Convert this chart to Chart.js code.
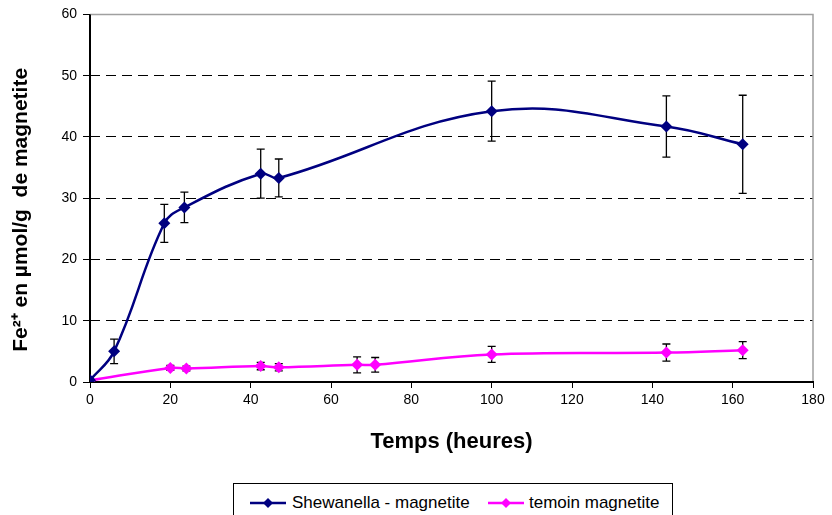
<!DOCTYPE html>
<html>
<head>
<meta charset="utf-8">
<script src="https://cdn.jsdelivr.net/npm/chart.js@4/dist/chart.umd.min.js"></script>
<style>
  html, body { margin: 0; padding: 0; background: #fff; }
  #wrap { position: relative; width: 832px; height: 515px; overflow: hidden; }
  canvas { position: absolute; left: 0; top: 0; }
  #legend {
    position: absolute; left: 233px; top: 483px; width: 440px; height: 40px;
    border: 1px solid #000; box-sizing: border-box; background: #fff;
    font-family: "Liberation Sans", Arial, sans-serif; font-size: 17px; color: #000;
  }
  .item { position: absolute; top: 9px; height: 20px; line-height: 20px; white-space: pre; }
  .sym { position: absolute; top: 0; width: 36px; height: 20px; }
</style>
</head>
<body>
<div id="wrap">
  <canvas id="c" width="832" height="515"></canvas>
  <div id="legend"></div>
</div>
<script>
// ---- data ----
const seriesNames = ['Shewanella - magnetite', 'temoin magnetite'];
const shewTimes = [0, 6, 18.5, 23.5, 42.5, 47, 100, 143.5, 162.5];
const shewValues = [0.3, 5.0, 25.9, 28.5, 34.0, 33.3, 44.2, 41.7, 38.8];
const shewErrors = [0, 2.0, 3.1, 2.5, 4.0, 3.1, 4.9, 5.0, 8.0];
const temTimes = [0, 20, 24, 42.5, 47, 66.5, 71, 100, 143.5, 162.5];
const temValues = [0.25, 2.3, 2.2, 2.6, 2.4, 2.8, 2.8, 4.5, 4.8, 5.2];
const temErrors = [0, 0.4, 0.4, 0.6, 0.6, 1.3, 1.2, 1.3, 1.4, 1.4];
const xTicks = [0, 20, 40, 60, 80, 100, 120, 140, 160, 180];
const yTicks = [0, 10, 20, 30, 40, 50, 60];
const xTitle = 'Temps (heures)';
const yTitle = 'Fe\u00B2\u207A en \u00B5mol/g  de magnetite\u00A0\u00A0\u00A0\u00A0';
const colors = ['#000080', '#FF00FF'];

const FONT = '"Liberation Sans", Arial, sans-serif';

const toPts = (xs, ys) => xs.map((x, i) => ({x: x, y: ys[i]}));

const errorBars = {
  id: 'errorBars',
  beforeDatasetsDraw(chart) {
    const ctx = chart.ctx;
    const xs = chart.scales.x, ys = chart.scales.y;
    const sets = [[shewTimes, shewValues, shewErrors], [temTimes, temValues, temErrors]];
    ctx.save();
    ctx.strokeStyle = '#000';
    ctx.lineWidth = 1.3;
    sets.forEach(([t, v, e]) => {
      t.forEach((tx, i) => {
        if (!e[i]) return;
        const px = xs.getPixelForValue(tx);
        const top = ys.getPixelForValue(v[i] + e[i]);
        const bot = ys.getPixelForValue(v[i] - e[i]);
        ctx.beginPath();
        ctx.moveTo(px, top); ctx.lineTo(px, bot);
        ctx.moveTo(px - 4, top); ctx.lineTo(px + 4, top);
        ctx.moveTo(px - 4, bot); ctx.lineTo(px + 4, bot);
        ctx.stroke();
      });
    });
    ctx.restore();
  }
};

// plot-area frame: grey top/right, black left/bottom axes
const frame = {
  id: 'frame',
  beforeDatasetsDraw(chart) {
    const {ctx, chartArea: a} = chart;
    ctx.save();
    ctx.setLineDash([]);
    ctx.strokeStyle = '#a0a0a0';
    ctx.lineWidth = 1.5;
    ctx.beginPath();
    ctx.moveTo(a.left, a.top); ctx.lineTo(a.right, a.top); ctx.lineTo(a.right, a.bottom);
    ctx.stroke();
    ctx.strokeStyle = '#000';
    ctx.lineWidth = 2;
    ctx.beginPath();
    ctx.moveTo(a.left, a.top); ctx.lineTo(a.left, a.bottom); ctx.lineTo(a.right + 1, a.bottom);
    ctx.stroke();
    ctx.restore();
  }
};

const chart = new Chart(document.getElementById('c'), {
  type: 'line',
  data: {
    datasets: [
      {
        label: seriesNames[0],
        data: toPts(shewTimes, shewValues),
        borderColor: colors[0], backgroundColor: colors[0],
        borderWidth: 2.5, tension: 0.4,
        pointStyle: 'rectRot', pointRadius: 6, pointBorderWidth: 0,
        pointBackgroundColor: colors[0]
      },
      {
        label: seriesNames[1],
        data: toPts(temTimes, temValues),
        borderColor: colors[1], backgroundColor: colors[1],
        borderWidth: 2.5, tension: 0.4,
        pointStyle: 'rectRot', pointRadius: 6, pointBorderWidth: 0,
        pointBackgroundColor: colors[1]
      }
    ]
  },
  options: {
    responsive: false,
    animation: false,
    events: [],
    layout: { padding: { left: 0, right: 19, top: 11, bottom: 0 } },
    plugins: { legend: { display: false }, tooltip: { enabled: false } },
    scales: {
      x: {
        type: 'linear', min: 0, max: 180,
        afterBuildTicks: s => { s.ticks = xTicks.map(v => ({value: v})); },
        afterFit: s => { s.height = 133; },
        ticks: { color: '#000', font: { family: FONT, size: 14 }, padding: 4, maxRotation: 0 },
        grid: { drawOnChartArea: false, drawTicks: true, tickLength: 6, tickColor: '#000', tickWidth: 1 },
        border: { display: false },
        title: { display: true, text: xTitle, color: '#000',
                 font: { family: FONT, size: 22, weight: 'bold' }, padding: { top: 0, bottom: 60 } }
      },
      y: {
        min: 0, max: 60,
        afterBuildTicks: s => { s.ticks = yTicks.map(v => ({value: v})); },
        afterFit: s => { s.width = 90; },
        ticks: { color: '#000', font: { family: FONT, size: 14 }, padding: 6 },
        grid: {
          color: c => (c.tick && c.tick.value === 60) ? '#777' : '#000',
          lineWidth: 1, tickBorderDash: [], tickLength: 7, tickColor: '#000', tickWidth: 1
        },
        border: { display: false, dash: [10, 6] },
        title: { display: true, text: yTitle, color: '#000',
                 font: { family: FONT, size: 21, weight: 'bold' }, padding: { top: 9, bottom: 0 } }
      }
    }
  },
  plugins: [frame, errorBars]
});

// ---- legend (HTML text) ----
(function buildLegend() {
  const lg = document.getElementById('legend');
  const lefts = [[16, 58], [254, 295]];
  seriesNames.forEach((name, i) => {
    const sym = document.createElement('canvas');
    sym.className = 'sym'; sym.width = 36; sym.height = 20;
    sym.style.left = lefts[i][0] + 'px'; sym.style.top = '9px';
    const g = sym.getContext('2d');
    g.strokeStyle = colors[i]; g.lineWidth = 2.5;
    g.beginPath(); g.moveTo(0, 10); g.lineTo(36, 10); g.stroke();
    g.fillStyle = colors[i];
    g.beginPath(); g.moveTo(18, 5); g.lineTo(23, 10); g.lineTo(18, 15); g.lineTo(13, 10); g.closePath(); g.fill();
    lg.appendChild(sym);
    const t = document.createElement('div');
    t.className = 'item'; t.textContent = name; t.style.left = lefts[i][1] + 'px';
    lg.appendChild(t);
  });
})();
</script>
</body>
</html>
